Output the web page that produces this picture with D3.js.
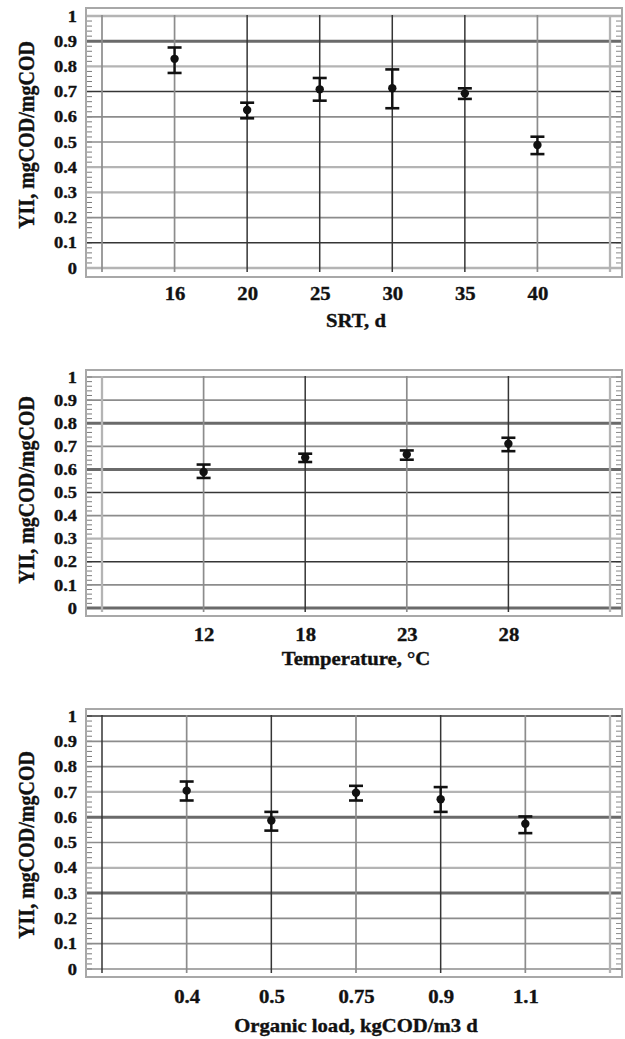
<!DOCTYPE html>
<html>
<head>
<meta charset="utf-8">
<script src="https://cdn.jsdelivr.net/npm/d3@7"></script>
<style>
  body { margin: 0; background: #fff; }
  text { font-family: "Liberation Serif", "Times New Roman", serif; font-weight: bold; fill: #111; stroke: #111; stroke-width: 0.35px; }
</style>
</head>
<body>
<div id="chart"></div>
<script>
// values
const yTicks = [0, 0.1, 0.2, 0.3, 0.4, 0.5, 0.6, 0.7, 0.8, 0.9, 1];

const srtLabels = ["16", "20", "25", "30", "35", "40"];
const srtMean = [0.83, 0.627, 0.709, 0.713, 0.693, 0.488];
const srtLow  = [0.774, 0.594, 0.664, 0.634, 0.671, 0.452];
const srtHigh = [0.875, 0.656, 0.754, 0.788, 0.713, 0.521];

const tempLabels = ["12", "18", "23", "28"];
const tempMean = [0.589, 0.651, 0.665, 0.711];
const tempLow  = [0.563, 0.632, 0.642, 0.679];
const tempHigh = [0.621, 0.668, 0.682, 0.737];

const loadLabels = ["0.4", "0.5", "0.75", "0.9", "1.1"];
const loadMean = [0.705, 0.587, 0.697, 0.671, 0.574];
const loadLow  = [0.666, 0.547, 0.666, 0.621, 0.537];
const loadHigh = [0.741, 0.621, 0.724, 0.719, 0.603];

// grid line looks (D dark thin, K thick grey, G grey, L light)
const lineStyles = {
  D: { c: "#353535", w: 1.5 },
  K: { c: "#6a6a6a", w: 3 },
  G: { c: "#8c8c8c", w: 1.7 },
  L: { c: "#b4b4b4", w: 2.3 }
};

const width = 625, height = 1039;
const svg = d3.select("#chart").append("svg")
  .attr("width", width)
  .attr("height", height);

const panels = [
  { labels: srtLabels, mean: srtMean, low: srtLow, high: srtHigh, title: "SRT, d",
    top: 8, bottom: 277, y1: 16, y0: 268, tickY: 300, titleY: 327, yTitleC: 135,
    h: "LDGLLGGDLKL", v: "GGDDDDGL" },
  { labels: tempLabels, mean: tempMean, low: tempLow, high: tempHigh, title: "Temperature, °C",
    top: 370, bottom: 616, y1: 377, y0: 608, tickY: 641, titleY: 665, yTitleC: 490,
    h: "KGDLGDKGKGG", v: "LGDGDL" },
  { labels: loadLabels, mean: loadMean, low: loadLow, high: loadHigh, title: "Organic load, kgCOD/m3 d",
    top: 709, bottom: 977, y1: 716, y0: 969, tickY: 1003, titleY: 1032, yTitleC: 845,
    h: "GGGKLGKLGGD", v: "DGDGDGL" }
];

const sx = 1.15; // the source text is a bit wide

panels.forEach(p => drawPanel(p));

function drawPanel(p) {
  const n = p.labels.length;
  const x = d3.scaleLinear().domain([0, n + 1]).range([102, 610]);
  const y = d3.scaleLinear().domain([0, 1]).range([p.y0, p.y1]);
  const g = svg.append("g");

  // frame
  g.append("rect")
    .attr("x", 86).attr("y", p.top)
    .attr("width", 536).attr("height", p.bottom - p.top)
    .attr("fill", "none")
    .attr("stroke", "#a8a8a8")
    .attr("stroke-width", 2);

  // small ticks down both sides
  const minor = d3.range(0, 51).map(i => i / 50);
  g.append("g").selectAll("line").data(minor).join("line")
    .attr("x1", 87).attr("x2", 92)
    .attr("y1", d => y(d)).attr("y2", d => y(d))
    .attr("stroke", "#7a7a7a").attr("stroke-width", 1);
  g.append("g").selectAll("line").data(minor).join("line")
    .attr("x1", 616).attr("x2", 621)
    .attr("y1", d => y(d)).attr("y2", d => y(d))
    .attr("stroke", "#8a8a8a").attr("stroke-width", 1);

  // horizontal grid
  g.append("g").selectAll("line").data(yTicks).join("line")
    .attr("x1", 87).attr("x2", 621)
    .attr("y1", d => y(d)).attr("y2", d => y(d))
    .attr("stroke", (d, i) => lineStyles[p.h[i]].c)
    .attr("stroke-width", (d, i) => lineStyles[p.h[i]].w);

  // vertical grid, one line past each end
  const vIdx = d3.range(0, n + 2);
  g.append("g").selectAll("line").data(vIdx).join("line")
    .attr("x1", d => x(d)).attr("x2", d => x(d))
    .attr("y1", y(1) - 1).attr("y2", y(0) + 4)
    .attr("stroke", (d, i) => lineStyles[p.v[i]].c)
    .attr("stroke-width", (d, i) => lineStyles[p.v[i]].w);

  // y tick labels
  const ya = g.append("g")
    .attr("transform", "translate(77,0)")
    .call(d3.axisLeft(y).tickValues(yTicks).tickSize(0).tickPadding(0).tickFormat(d3.format("")));
  ya.select(".domain").remove();
  ya.selectAll("text")
    .attr("x", 0)
    .attr("transform", `scale(${sx},1)`)
    .style("font-size", "16px")
    .style("font-family", "Liberation Serif")
    .attr("fill", "#111");

  // x tick labels
  const xa = g.append("g")
    .attr("transform", `translate(0,${p.tickY})`)
    .call(d3.axisBottom(x).tickValues(d3.range(1, n + 1)).tickSize(0).tickPadding(0)
      .tickFormat(d => p.labels[d - 1]));
  xa.select(".domain").remove();
  xa.selectAll("text")
    .attr("y", 0).attr("dy", 0)
    .attr("transform", `scale(${sx},1)`)
    .style("font-size", "18px")
    .style("font-family", "Liberation Serif")
    .attr("fill", "#111");

  // axis titles
  g.append("text")
    .attr("transform", `translate(356,${p.titleY}) scale(${sx},1)`)
    .attr("text-anchor", "middle")
    .style("font-size", "18px")
    .text(p.title);

  g.append("text")
    .attr("transform", `translate(34,${p.yTitleC}) rotate(-90) scale(1,${sx})`)
    .attr("text-anchor", "middle")
    .style("font-size", "20px")
    .text("YII, mgCOD/mgCOD");

  // error bars and points
  const pts = p.labels.map((l, i) => ({ i: i + 1, m: p.mean[i], lo: p.low[i], hi: p.high[i] }));
  const eb = g.append("g").selectAll("g").data(pts).join("g");
  eb.append("line")
    .attr("x1", d => x(d.i)).attr("x2", d => x(d.i))
    .attr("y1", d => y(d.lo)).attr("y2", d => y(d.hi))
    .attr("stroke", "#111").attr("stroke-width", 2.4);
  eb.append("line")
    .attr("x1", d => x(d.i) - 7).attr("x2", d => x(d.i) + 7)
    .attr("y1", d => y(d.lo)).attr("y2", d => y(d.lo))
    .attr("stroke", "#111").attr("stroke-width", 2.6);
  eb.append("line")
    .attr("x1", d => x(d.i) - 7).attr("x2", d => x(d.i) + 7)
    .attr("y1", d => y(d.hi)).attr("y2", d => y(d.hi))
    .attr("stroke", "#111").attr("stroke-width", 2.6);
  eb.append("circle")
    .attr("cx", d => x(d.i)).attr("cy", d => y(d.m))
    .attr("r", 4.2)
    .attr("fill", "#111");
}
</script>
</body>
</html>
